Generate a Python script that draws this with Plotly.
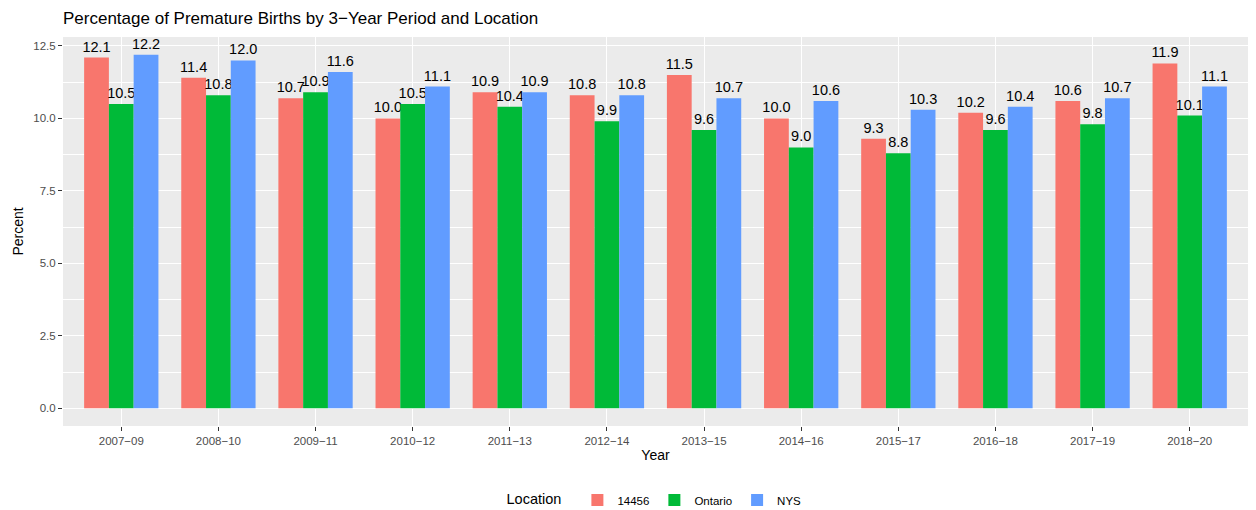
import plotly.graph_objects as go

periods = ["2007\u221209", "2008\u221210", "2009\u221211", "2010\u221212", "2011\u221213", "2012\u221214",
           "2013\u221215", "2014\u221216", "2015\u221217", "2016\u221218", "2017\u221219", "2018\u221220"]
loc_14456 = [12.1, 11.4, 10.7, 10.0, 10.9, 10.8, 11.5, 10.0, 9.3, 10.2, 10.6, 11.9]
loc_ontario = [10.5, 10.8, 10.9, 10.5, 10.4, 9.9, 9.6, 9.0, 8.8, 9.6, 9.8, 10.1]
loc_nys = [12.2, 12.0, 11.6, 11.1, 10.9, 10.8, 10.7, 10.6, 10.3, 10.4, 10.7, 11.1]
series = [("14456", loc_14456, "#F8766D"), ("Ontario", loc_ontario, "#00BA38"), ("NYS", loc_nys, "#619CFF")]

FONT = "Liberation Sans, Arial, sans-serif"
# page has an 8px body margin, so the figure is 8px smaller and offset
W, H = 1248, 502
fig = go.Figure()
for name, vals, col in series:
    fig.add_trace(go.Bar(
        x=periods, y=vals, name=name, marker=dict(color=col, line=dict(width=0)),
        text=[f"{v:.1f}" for v in vals], textposition="outside", cliponaxis=False,
        constraintext="none",
        textfont=dict(size=14.5, color="black", family=FONT),
    ))

fig.update_layout(
    width=W, height=H,
    barmode="group", bargap=0.235, bargroupgap=0,
    plot_bgcolor="#EBEBEB", paper_bgcolor="white",
    margin=dict(l=55, r=8, t=29, b=84, autoexpand=False),
    font=dict(family=FONT, color="black"),
    title=dict(text="Percentage of Premature Births by 3\u2212Year Period and Location",
               x=55/W, xanchor="left", y=1-10/H, yanchor="middle", automargin=False,
               font=dict(size=17, color="black", family=FONT)),
    legend=dict(orientation="h", x=0.5, xanchor="center", xref="paper",
                y=-74/389, yref="paper", yanchor="middle",
                title=dict(text="Location  ", font=dict(size=14.5, color="black"), side="left"),
                font=dict(size=11.5, color="black"), itemwidth=30, traceorder="normal"),
)
fig.update_xaxes(
    type="category", range=[-0.6, 11.6], showgrid=True, gridcolor="white", gridwidth=1.1,
    ticks="outside", ticklen=4, tickcolor="#333333", tickwidth=1.1,
    tickfont=dict(size=11.5, color="#4D4D4D"), automargin=False,
    title=dict(text="Year", font=dict(size=14, color="black"), standoff=4),
    zeroline=False, showline=False,
)
fig.update_yaxes(
    range=[-0.61, 12.81], tickvals=[0, 2.5, 5, 7.5, 10, 12.5],
    ticktext=["0.0", "2.5", "5.0", "7.5", "10.0", "12.5"],
    showgrid=True, gridcolor="white", gridwidth=1.1,
    minor=dict(tickvals=[1.25, 3.75, 6.25, 8.75, 11.25], showgrid=True, gridcolor="white", gridwidth=0.5, ticks=""),
    ticks="outside", ticklen=4, tickcolor="#333333", tickwidth=1.1,
    tickfont=dict(size=11.5, color="#4D4D4D"), automargin=False,
    title=dict(text="Percent", font=dict(size=14, color="black"), standoff=6),
    zeroline=False, showline=False,
)
fig.write_html("out.html")
